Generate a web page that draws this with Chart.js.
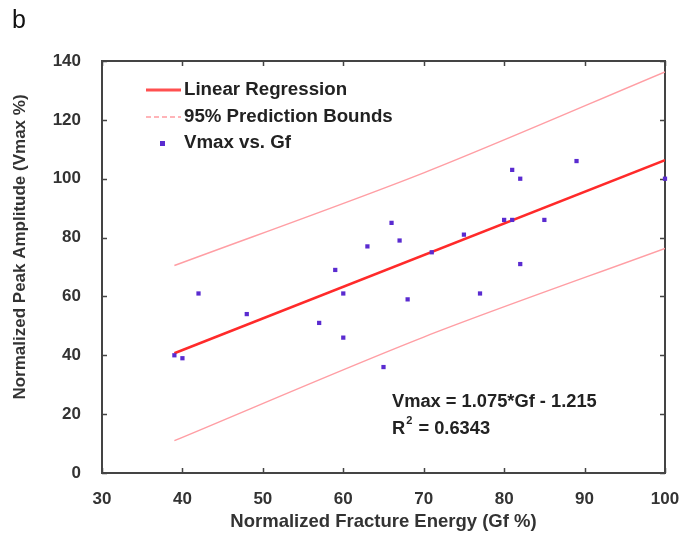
<!DOCTYPE html>
<html>
<head>
<meta charset="utf-8">
<script src="https://cdn.jsdelivr.net/npm/chart.js@4/dist/chart.umd.min.js"></script>
<style>
  html, body { margin: 0; padding: 0; background: #fff; }
  #wrap { width: 683px; height: 544px; }
</style>
</head>
<body>
<div id="wrap"><canvas id="chart" width="683" height="544"></canvas></div>
<script>
// Normalized fracture energy (Gf %) vs normalized peak amplitude (Vmax %)
const gf   = [39, 40, 42, 48, 57, 59, 60, 60, 63, 65, 66, 67, 68, 71, 75, 77, 80, 81, 81, 82, 82, 85, 89, 100];
const vmax = [40, 39, 61, 54, 51, 69, 61, 46, 77, 36, 85, 79, 59, 75, 81, 61, 86, 86, 103, 100, 71, 86, 106, 100];

// fitted line and 95% prediction bounds
const fitX   = [39, 100];
const fitY   = [40.7, 106.3];
const boundX = [39, 70, 100];
const upperY = [70.5, 102, 136.3];
const lowerY = [11, 46.2, 76.3];

const xTicks = [30, 40, 50, 60, 70, 80, 90, 100];
const yTicks = [0, 20, 40, 60, 80, 100, 120, 140];

const FONT = 'Liberation Sans, Arial, sans-serif';
const toPts = (xs, ys) => xs.map((x, i) => ({ x: x, y: ys[i] }));

const extras = {
  id: 'extras',
  beforeDatasetsDraw(chart) {
    const { ctx, chartArea: a, scales: { x, y } } = chart;
    ctx.save();
    // frame + inward ticks on all four sides
    ctx.strokeStyle = '#444';
    ctx.lineWidth = 2;
    ctx.strokeRect(a.left, a.top, a.right - a.left, a.bottom - a.top);
    ctx.lineWidth = 1.5;
    ctx.beginPath();
    xTicks.forEach(v => {
      const px = Math.round(x.getPixelForValue(v)) + 0.5;
      ctx.moveTo(px, a.bottom); ctx.lineTo(px, a.bottom - 5);
      ctx.moveTo(px, a.top); ctx.lineTo(px, a.top + 5);
    });
    yTicks.forEach(v => {
      const py = Math.round(y.getPixelForValue(v)) + 0.5;
      ctx.moveTo(a.left, py); ctx.lineTo(a.left + 5, py);
      ctx.moveTo(a.right, py); ctx.lineTo(a.right - 5, py);
    });
    ctx.stroke();
    ctx.restore();
  },
  afterDatasetsDraw(chart) {
    const ctx = chart.ctx;
    ctx.save();

    // legend
    ctx.font = 'bold 18.7px ' + FONT;
    ctx.fillStyle = '#222';
    ctx.textBaseline = 'middle';
    ctx.textAlign = 'left';
    ctx.lineWidth = 3;
    ctx.strokeStyle = '#ff5050';
    ctx.beginPath(); ctx.moveTo(146, 90); ctx.lineTo(181, 90); ctx.stroke();
    ctx.lineWidth = 2;
    ctx.strokeStyle = '#ffb4b8';
    ctx.setLineDash([5, 3]);
    ctx.beginPath(); ctx.moveTo(146, 117); ctx.lineTo(181, 117); ctx.stroke();
    ctx.setLineDash([]);
    ctx.fillStyle = '#5a2bd0';
    ctx.fillRect(160, 141, 5, 5);
    ctx.fillStyle = '#222';
    ctx.fillText('Linear Regression', 184, 90);
    ctx.fillText('95% Prediction Bounds', 184, 117);
    ctx.fillText('Vmax vs. Gf', 184, 143);

    // fit equation
    ctx.font = 'bold 18.3px ' + FONT;
    ctx.fillText('Vmax = 1.075*Gf - 1.215', 392, 402);
    ctx.fillText('R', 392, 429);
    const w = ctx.measureText('R').width;
    ctx.font = 'bold 11px ' + FONT;
    ctx.fillText('2', 392 + w + 1, 421);
    const w2 = ctx.measureText('2').width;
    ctx.font = 'bold 18.3px ' + FONT;
    ctx.fillText(' = 0.6343', 392 + w + w2 + 2, 429);

    // y axis title
    ctx.save();
    ctx.translate(20, 247);
    ctx.rotate(-Math.PI / 2);
    ctx.textAlign = 'center';
    ctx.font = 'bold 17px ' + FONT;
    ctx.fillStyle = '#333';
    ctx.fillText('Normalized Peak Amplitude (Vmax %)', 0, 0);
    ctx.restore();

    // panel letter
    ctx.font = '25px ' + FONT;
    ctx.fillStyle = '#111';
    ctx.fillText('b', 12, 21);
    ctx.restore();
  }
};

new Chart(document.getElementById('chart'), {
  type: 'scatter',
  data: {
    datasets: [
      {
        label: 'Vmax vs. Gf',
        data: toPts(gf, vmax),
        pointStyle: 'rect',
        pointRadius: 3,
        backgroundColor: '#5a2bd0',
        borderColor: '#5a2bd0',
        borderWidth: 0,
        clip: false
      },
      {
        label: 'Linear Regression',
        data: toPts(fitX, fitY),
        showLine: true,
        pointRadius: 0,
        borderColor: '#ff2a2a',
        borderWidth: 2.5
      },
      {
        label: '95% Prediction Bounds',
        data: toPts(boundX, upperY),
        showLine: true,
        tension: 0.3,
        pointRadius: 0,
        borderColor: '#ff9ea4',
        borderWidth: 1.4
      },
      {
        label: '95% Prediction Bounds (lower)',
        data: toPts(boundX, lowerY),
        showLine: true,
        tension: 0.3,
        pointRadius: 0,
        borderColor: '#ff9ea4',
        borderWidth: 1.4
      }
    ]
  },
  options: {
    responsive: false,
    animation: false,
    layout: { padding: { top: 61, right: 18, left: 0, bottom: 0 } },
    plugins: {
      legend: { display: false },
      tooltip: { enabled: false }
    },
    scales: {
      x: {
        type: 'linear',
        min: 30,
        max: 100,
        afterFit: s => { s.height = 71; s.paddingLeft = 0; s.paddingRight = 0; },
        afterBuildTicks: s => { s.ticks = xTicks.map(v => ({ value: v })); },
        grid: { display: false },
        border: { display: false },
        ticks: { padding: 8, color: '#333', font: { family: FONT, size: 17, weight: 'bold' } },
        title: {
          display: true,
          text: 'Normalized Fracture Energy (Gf %)',
          color: '#333',
          padding: { top: 0, bottom: 11 },
          font: { family: FONT, size: 18.5, weight: 'bold' }
        }
      },
      y: {
        type: 'linear',
        min: 0,
        max: 140,
        afterFit: s => { s.width = 102; s.paddingTop = 0; s.paddingBottom = 0; },
        afterBuildTicks: s => { s.ticks = yTicks.map(v => ({ value: v })); },
        grid: { display: false },
        border: { display: false },
        ticks: { padding: 13, color: '#333', font: { family: FONT, size: 17, weight: 'bold' } }
      }
    }
  },
  plugins: [extras]
});
</script>
</body>
</html>
